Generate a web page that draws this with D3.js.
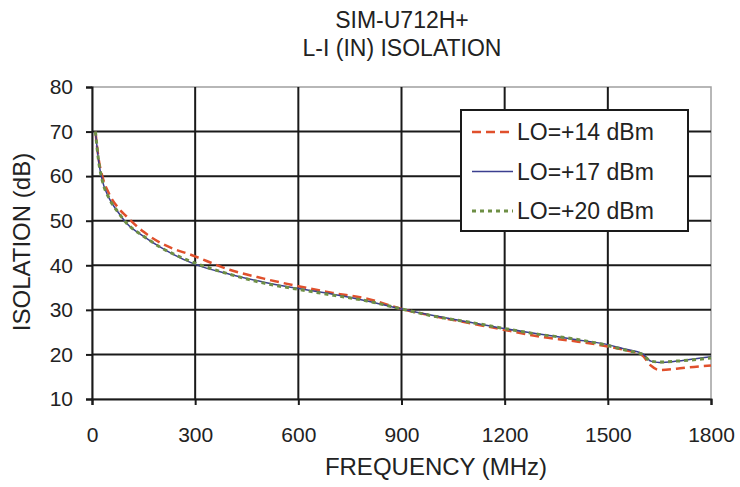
<!DOCTYPE html>
<html>
<head>
<meta charset="utf-8">
<script src="https://cdn.jsdelivr.net/npm/d3@7"></script>
<style>
  body { margin: 0; background: #fff; }
  text { font-family: "Liberation Sans", Arial, sans-serif; fill: #222; }
</style>
</head>
<body>
<svg id="chart" width="740" height="487"></svg>
<script>
(function () {
    'use strict';

    // frequency points (MHz)
    var freqs = [10, 20, 30, 50, 75, 100, 150, 200, 300, 400, 500, 600, 700, 800, 900,
                 1000, 1100, 1200, 1300, 1400, 1500, 1550, 1600, 1625, 1650, 1700, 1750, 1800];

    // isolation (dB) per LO drive level
    var lo14 = [70, 63.5, 60, 56, 53, 51, 47.5, 45, 42, 39, 37, 35.3, 33.8, 32.5, 30.2,
                28.5, 27, 25.5, 24, 23, 21.8, 21, 19.8, 17.5, 16.5, 16.8, 17.2, 17.5];
    var lo17 = [70, 63, 59, 55, 52, 49.5, 46.5, 44, 40.2, 38, 36.2, 34.8, 33.5, 32, 30.2,
                28.6, 27.2, 25.8, 24.6, 23.4, 22.2, 21.2, 20.2, 18.5, 18.2, 18.5, 19, 19.5];
    var lo20 = [70, 63, 59, 55, 52, 49.5, 46.5, 44, 40.5, 38, 36, 34.6, 33.3, 32, 30.2,
                28.5, 27.2, 25.8, 24.5, 23.5, 22, 21, 20, 18.5, 18.3, 18.5, 18.8, 19.2];

    var seriesNames = ['LO=+14 dBm', 'LO=+17 dBm', 'LO=+20 dBm'];
    var xTicks = [0, 300, 600, 900, 1200, 1500, 1800];
    var yTicks = [10, 20, 30, 40, 50, 60, 70, 80];

    var styles = [
        { color: '#e0502c', width: 2.5, dash: '9,5' },
        { color: '#3b3f8f', width: 1.5, dash: null },
        { color: '#6e8f45', width: 3, dash: '4,4' }
    ];

    var svg = d3.select('#chart');
    var margin = { left: 92, right: 29, top: 87, bottom: 88 };
    var W = 740, H = 487;

    var x = d3.scaleLinear().domain([0, 1800]).range([margin.left, W - margin.right]);
    var y = d3.scaleLinear().domain([10, 80]).range([H - margin.bottom, margin.top]);

    // frame (top/right light grey)
    svg.append('rect')
        .attr('x', x(0)).attr('y', y(80))
        .attr('width', x(1800) - x(0)).attr('height', y(10) - y(80))
        .attr('fill', 'none').attr('stroke', '#a0a0a0').attr('stroke-width', 1.5);

    // grid
    svg.append('g').selectAll('line').data(yTicks.slice(1, -1)).enter().append('line')
        .attr('x1', x(0)).attr('x2', x(1800))
        .attr('y1', function (d) { return y(d); }).attr('y2', function (d) { return y(d); })
        .attr('stroke', '#1a1a1a').attr('stroke-width', 2);
    svg.append('g').selectAll('line').data(xTicks.slice(1, -1)).enter().append('line')
        .attr('y1', y(10)).attr('y2', y(80))
        .attr('x1', function (d) { return x(d); }).attr('x2', function (d) { return x(d); })
        .attr('stroke', '#1a1a1a').attr('stroke-width', 2);

    // axes
    var xAxis = svg.append('g')
        .attr('transform', 'translate(0,' + y(10) + ')')
        .call(d3.axisBottom(x).tickValues(xTicks).tickFormat(d3.format('d'))
            .tickSize(6).tickPadding(22));
    var yAxis = svg.append('g')
        .attr('transform', 'translate(' + x(0) + ',0)')
        .call(d3.axisLeft(y).tickValues(yTicks).tickFormat(d3.format('d'))
            .tickSize(6).tickPadding(13));
    [xAxis, yAxis].forEach(function (a) {
        a.select('.domain').attr('stroke', '#1a1a1a').attr('stroke-width', 2);
        a.selectAll('.tick line').attr('stroke', '#1a1a1a').attr('stroke-width', 2);
        a.selectAll('.tick text').style('font-size', '21px').attr('fill', '#222');
    });

    // curves
    var line = d3.line()
        .x(function (d) { return x(d[0]); })
        .y(function (d) { return y(d[1]); })
        .curve(d3.curveMonotoneX);
    var allSeries = [lo14, lo17, lo20];
    allSeries.forEach(function (vals, i) {
        var pts = freqs.map(function (f, j) { return [f, vals[j]]; });
        svg.append('path').datum(pts)
            .attr('d', line)
            .attr('fill', 'none')
            .attr('stroke', styles[i].color)
            .attr('stroke-width', styles[i].width)
            .attr('stroke-dasharray', styles[i].dash);
    });

    // legend
    var lg = svg.append('g').attr('transform', 'translate(461,110)');
    lg.append('rect').attr('width', 227).attr('height', 121)
        .attr('fill', '#fff').attr('stroke', '#1a1a1a').attr('stroke-width', 2);
    seriesNames.forEach(function (name, i) {
        var cy = 22 + i * 39.5;
        lg.append('line')
            .attr('x1', 11).attr('x2', 52).attr('y1', cy).attr('y2', cy)
            .attr('stroke', styles[i].color)
            .attr('stroke-width', styles[i].width)
            .attr('stroke-dasharray', styles[i].dash);
        lg.append('text').attr('x', 56).attr('y', cy + 8)
            .style('font-size', '23px').text(name);
    });

    // titles
    svg.append('text').attr('x', 402).attr('y', 28).attr('text-anchor', 'middle')
        .style('font-size', '23px').text('SIM-U712H+');
    svg.append('text').attr('x', 402).attr('y', 56).attr('text-anchor', 'middle')
        .style('font-size', '23px').text('L-I (IN) ISOLATION');
    svg.append('text').attr('x', 436).attr('y', 475).attr('text-anchor', 'middle')
        .style('font-size', '24px').text('FREQUENCY (MHz)');
    svg.append('text')
        .attr('transform', 'translate(30,242) rotate(-90)')
        .attr('text-anchor', 'middle')
        .style('font-size', '24px').text('ISOLATION (dB)');
}());
</script>
</body>
</html>
